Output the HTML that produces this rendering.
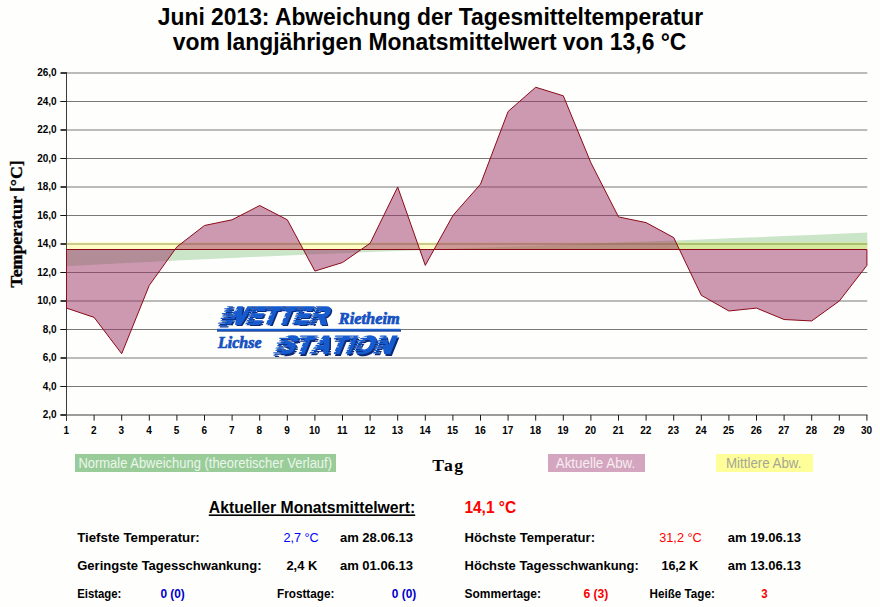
<!DOCTYPE html>
<html><head><meta charset="utf-8"><title>Juni 2013</title>
<style>
html,body{margin:0;padding:0;background:#fefefc;}
body{width:880px;height:607px;overflow:hidden;font-family:"Liberation Sans",sans-serif;}
svg{display:block;}
text{font-family:"Liberation Sans",sans-serif;}
.se{font-family:"Liberation Serif",serif;}
</style></head><body>
<svg width="880" height="607" viewBox="0 0 880 607">
<rect x="0" y="0" width="880" height="607" fill="#fefefc"/>
<g font-weight="bold" font-size="24.2" fill="#000">
<text x="157.8" y="24.8" textLength="545.4" lengthAdjust="spacingAndGlyphs">Juni 2013: Abweichung der Tagesmitteltemperatur</text>
<text x="172.8" y="50.4" textLength="513.6" lengthAdjust="spacingAndGlyphs">vom langjährigen Monatsmittelwert von 13,6 °C</text>
</g>
<g stroke="#000" stroke-width="0.53" fill="none">
<line x1="66.5" y1="386.50" x2="867.3" y2="386.50"/>
<line x1="66.5" y1="358.00" x2="867.3" y2="358.00"/>
<line x1="66.5" y1="329.50" x2="867.3" y2="329.50"/>
<line x1="66.5" y1="301.00" x2="867.3" y2="301.00"/>
<line x1="66.5" y1="272.50" x2="867.3" y2="272.50"/>
<line x1="66.5" y1="244.00" x2="867.3" y2="244.00"/>
<line x1="66.5" y1="215.50" x2="867.3" y2="215.50"/>
<line x1="66.5" y1="187.00" x2="867.3" y2="187.00"/>
<line x1="66.5" y1="158.50" x2="867.3" y2="158.50"/>
<line x1="66.5" y1="130.00" x2="867.3" y2="130.00"/>
<line x1="66.5" y1="101.50" x2="867.3" y2="101.50"/>
<line x1="66.5" y1="73.00" x2="867.3" y2="73.00"/>
</g>
<g fill="#262626">
<rect x="66" y="72" width="1" height="349" fill="#3a3a3a"/>
<rect x="60.5" y="414" width="807" height="2" fill="#9c9c9c"/>
<rect x="60.5" y="414" width="6.5" height="2" fill="#3a3a3a"/>
<rect x="60.3" y="386.0" width="6.2" height="1" fill="#111"/>
<rect x="60.5" y="357.0" width="6" height="2" fill="#3c3c3c"/>
<rect x="60.3" y="329.0" width="6.2" height="1" fill="#111"/>
<rect x="60.5" y="300.0" width="6" height="2" fill="#3c3c3c"/>
<rect x="60.3" y="272.0" width="6.2" height="1" fill="#111"/>
<rect x="60.5" y="243.0" width="6" height="2" fill="#3c3c3c"/>
<rect x="60.3" y="215.0" width="6.2" height="1" fill="#111"/>
<rect x="60.5" y="186.0" width="6" height="2" fill="#3c3c3c"/>
<rect x="60.3" y="158.0" width="6.2" height="1" fill="#111"/>
<rect x="60.5" y="129.0" width="6" height="2" fill="#3c3c3c"/>
<rect x="60.3" y="101.0" width="6.2" height="1" fill="#111"/>
<rect x="60.5" y="72.0" width="6" height="2" fill="#3c3c3c"/>
</g>
<g stroke="#1a1a1a" stroke-width="1" fill="none">
<line x1="94.10" y1="415" x2="94.10" y2="420.6"/>
<line x1="121.70" y1="415" x2="121.70" y2="420.6"/>
<line x1="149.30" y1="415" x2="149.30" y2="420.6"/>
<line x1="176.90" y1="415" x2="176.90" y2="420.6"/>
<line x1="204.50" y1="415" x2="204.50" y2="420.6"/>
<line x1="232.10" y1="415" x2="232.10" y2="420.6"/>
<line x1="259.70" y1="415" x2="259.70" y2="420.6"/>
<line x1="287.30" y1="415" x2="287.30" y2="420.6"/>
<line x1="314.90" y1="415" x2="314.90" y2="420.6"/>
<line x1="342.50" y1="415" x2="342.50" y2="420.6"/>
<line x1="370.10" y1="415" x2="370.10" y2="420.6"/>
<line x1="397.70" y1="415" x2="397.70" y2="420.6"/>
<line x1="425.30" y1="415" x2="425.30" y2="420.6"/>
<line x1="452.90" y1="415" x2="452.90" y2="420.6"/>
<line x1="480.50" y1="415" x2="480.50" y2="420.6"/>
<line x1="508.10" y1="415" x2="508.10" y2="420.6"/>
<line x1="535.70" y1="415" x2="535.70" y2="420.6"/>
<line x1="563.30" y1="415" x2="563.30" y2="420.6"/>
<line x1="590.90" y1="415" x2="590.90" y2="420.6"/>
<line x1="618.50" y1="415" x2="618.50" y2="420.6"/>
<line x1="646.10" y1="415" x2="646.10" y2="420.6"/>
<line x1="673.70" y1="415" x2="673.70" y2="420.6"/>
<line x1="701.30" y1="415" x2="701.30" y2="420.6"/>
<line x1="728.90" y1="415" x2="728.90" y2="420.6"/>
<line x1="756.50" y1="415" x2="756.50" y2="420.6"/>
<line x1="784.10" y1="415" x2="784.10" y2="420.6"/>
<line x1="811.70" y1="415" x2="811.70" y2="420.6"/>
<line x1="839.30" y1="415" x2="839.30" y2="420.6"/>
<line x1="866.90" y1="415" x2="866.90" y2="420.6"/>
</g>
<polygon points="66.50,249.50 66.50,266.30 94.10,264.77 121.70,263.30 149.30,261.88 176.90,260.52 204.50,259.19 232.10,257.92 259.70,256.68 287.30,255.48 314.90,254.31 342.50,253.17 370.10,252.05 397.70,250.96 425.30,249.89 452.90,248.83 480.50,247.78 508.10,246.74 535.70,245.71 563.30,244.68 590.90,243.65 618.50,242.61 646.10,241.57 673.70,240.51 701.30,239.44 728.90,238.35 756.50,237.23 784.10,236.09 811.70,234.92 839.30,233.72 866.90,232.48 867.30,232.48 867.30,249.50" fill="rgb(0,128,0)" fill-opacity="0.2"/>
<rect x="66.50" y="242.10" width="800.80" height="7.40" fill="rgb(255,255,0)" fill-opacity="0.22"/>
<polygon points="66.50,249.50 66.50,308.12 94.10,317.39 121.70,353.72 149.30,285.33 176.90,246.85 204.50,225.47 232.10,219.78 259.70,205.53 287.30,219.78 314.90,271.08 342.50,262.52 370.10,243.29 397.70,187.00 425.30,265.38 452.90,215.50 480.50,184.15 508.10,111.47 535.70,87.25 563.30,95.80 590.90,162.78 618.50,216.92 646.10,222.62 673.70,237.59 701.30,295.30 728.90,310.98 756.50,308.12 784.10,319.52 811.70,320.95 839.30,301.00 866.90,265.38 866.90,249.50" fill="rgb(153,51,102)" fill-opacity="0.5" stroke="#8c0a18" stroke-width="1.0" stroke-linejoin="round"/>
<g font-weight="bold" font-size="10" fill="#000" text-anchor="end">
<text x="56.6" y="418.4">2,0</text>
<text x="56.6" y="389.9">4,0</text>
<text x="56.6" y="361.4">6,0</text>
<text x="56.6" y="332.9">8,0</text>
<text x="56.6" y="304.4">10,0</text>
<text x="56.6" y="275.9">12,0</text>
<text x="56.6" y="247.4">14,0</text>
<text x="56.6" y="218.9">16,0</text>
<text x="56.6" y="190.4">18,0</text>
<text x="56.6" y="161.9">20,0</text>
<text x="56.6" y="133.4">22,0</text>
<text x="56.6" y="104.9">24,0</text>
<text x="56.6" y="76.4">26,0</text>
</g>
<g font-weight="bold" font-size="10" fill="#000" text-anchor="middle">
<text x="66.2" y="433.8">1</text>
<text x="93.8" y="433.8">2</text>
<text x="121.4" y="433.8">3</text>
<text x="149.0" y="433.8">4</text>
<text x="176.6" y="433.8">5</text>
<text x="204.2" y="433.8">6</text>
<text x="231.8" y="433.8">7</text>
<text x="259.4" y="433.8">8</text>
<text x="287.0" y="433.8">9</text>
<text x="314.6" y="433.8">10</text>
<text x="342.2" y="433.8">11</text>
<text x="369.8" y="433.8">12</text>
<text x="397.4" y="433.8">13</text>
<text x="425.0" y="433.8">14</text>
<text x="452.6" y="433.8">15</text>
<text x="480.2" y="433.8">16</text>
<text x="507.8" y="433.8">17</text>
<text x="535.4" y="433.8">18</text>
<text x="563.0" y="433.8">19</text>
<text x="590.6" y="433.8">20</text>
<text x="618.2" y="433.8">21</text>
<text x="645.8" y="433.8">22</text>
<text x="673.4" y="433.8">23</text>
<text x="701.0" y="433.8">24</text>
<text x="728.6" y="433.8">25</text>
<text x="756.2" y="433.8">26</text>
<text x="783.8" y="433.8">27</text>
<text x="811.4" y="433.8">28</text>
<text x="839.0" y="433.8">29</text>
<text x="866.6" y="433.8">30</text>
</g>
<text class="se" font-weight="bold" font-size="17.5" textLength="127.4" lengthAdjust="spacingAndGlyphs" stroke="#000" stroke-width="0.35" transform="translate(22.4,287.6) rotate(-90)">Temperatur [°C]</text>
<text class="se" font-weight="bold" font-size="17.7" letter-spacing="1.5" x="432.3" y="470.8">Tag</text>
<rect x="75" y="454" width="261" height="18" fill="#99cc99"/>
<text x="78.4" y="468.0" font-size="13.8" textLength="253.6" lengthAdjust="spacingAndGlyphs" fill="#ebf6eb">Normale Abweichung (theoretischer Verlauf)</text>
<rect x="548" y="454" width="97" height="18" fill="#d4a5be"/>
<text x="555.8" y="468.0" font-size="13.8" textLength="79.4" lengthAdjust="spacingAndGlyphs" fill="#f6ecf2">Aktuelle Abw.</text>
<rect x="716" y="454" width="97" height="18" fill="#ffff99"/>
<text x="726.0" y="468.0" font-size="13.8" textLength="75.4" lengthAdjust="spacingAndGlyphs" fill="#a6a696">Mittlere Abw.</text>
<g id="logo">
<mask id="ma" maskUnits="userSpaceOnUse" x="-10" y="-24" width="134" height="30"><rect x="-10" y="-24" width="134" height="30" fill="#fff"/><rect x="-1.8" y="-16.4" width="8.8" height="0.85" fill="#000"/><rect x="-1.8" y="-14.0" width="12.5" height="0.85" fill="#000"/><rect x="-1.8" y="-11.6" width="7.4" height="0.85" fill="#000"/><rect x="-1.8" y="-9.2" width="11.6" height="0.85" fill="#000"/><rect x="-1.8" y="-6.8" width="9.3" height="0.85" fill="#000"/><rect x="-1.8" y="-4.4" width="13.5" height="0.85" fill="#000"/><rect x="-1.8" y="-2.0" width="7.9" height="0.85" fill="#000"/><rect x="-1.8" y="0.4" width="11.1" height="0.85" fill="#000"/><rect x="21.6" y="-16.4" width="8.7" height="0.85" fill="#000"/><rect x="21.6" y="-14.0" width="7.1" height="0.85" fill="#000"/><rect x="21.6" y="-11.6" width="10.1" height="0.85" fill="#000"/><rect x="21.6" y="-9.2" width="6.1" height="0.85" fill="#000"/><rect x="21.6" y="-6.8" width="8.4" height="0.85" fill="#000"/><rect x="21.6" y="-4.4" width="6.8" height="0.85" fill="#000"/><rect x="21.6" y="-2.0" width="9.4" height="0.85" fill="#000"/><rect x="21.6" y="0.4" width="5.8" height="0.85" fill="#000"/><rect x="38.1" y="-16.4" width="5.7" height="0.85" fill="#000"/><rect x="38.1" y="-14.0" width="7.8" height="0.85" fill="#000"/><rect x="38.1" y="-11.6" width="6.3" height="0.85" fill="#000"/><rect x="38.1" y="-9.2" width="8.8" height="0.85" fill="#000"/><rect x="38.1" y="-6.8" width="5.4" height="0.85" fill="#000"/><rect x="38.1" y="-4.4" width="8.2" height="0.85" fill="#000"/><rect x="38.1" y="-2.0" width="6.6" height="0.85" fill="#000"/><rect x="38.1" y="0.4" width="9.4" height="0.85" fill="#000"/><rect x="53.2" y="-16.4" width="8.8" height="0.85" fill="#000"/><rect x="53.2" y="-14.0" width="5.4" height="0.85" fill="#000"/><rect x="53.2" y="-11.6" width="8.2" height="0.85" fill="#000"/><rect x="53.2" y="-9.2" width="6.6" height="0.85" fill="#000"/><rect x="53.2" y="-6.8" width="9.4" height="0.85" fill="#000"/><rect x="53.2" y="-4.4" width="5.7" height="0.85" fill="#000"/><rect x="53.2" y="-2.0" width="7.8" height="0.85" fill="#000"/><rect x="53.2" y="0.4" width="6.3" height="0.85" fill="#000"/><rect x="68.3" y="-16.4" width="7.1" height="0.85" fill="#000"/><rect x="68.3" y="-14.0" width="10.1" height="0.85" fill="#000"/><rect x="68.3" y="-11.6" width="6.1" height="0.85" fill="#000"/><rect x="68.3" y="-9.2" width="8.4" height="0.85" fill="#000"/><rect x="68.3" y="-6.8" width="6.8" height="0.85" fill="#000"/><rect x="68.3" y="-4.4" width="9.4" height="0.85" fill="#000"/><rect x="68.3" y="-2.0" width="5.8" height="0.85" fill="#000"/><rect x="68.3" y="0.4" width="8.7" height="0.85" fill="#000"/><rect x="84.8" y="-16.4" width="8.9" height="0.85" fill="#000"/><rect x="84.8" y="-14.0" width="7.2" height="0.85" fill="#000"/><rect x="84.8" y="-11.6" width="10.0" height="0.85" fill="#000"/><rect x="84.8" y="-9.2" width="6.1" height="0.85" fill="#000"/><rect x="84.8" y="-6.8" width="9.3" height="0.85" fill="#000"/><rect x="84.8" y="-4.4" width="7.5" height="0.85" fill="#000"/><rect x="84.8" y="-2.0" width="10.7" height="0.85" fill="#000"/><rect x="84.8" y="0.4" width="6.4" height="0.85" fill="#000"/></mask>
<g transform="translate(222.9,324.9) skewX(-22)"><g mask="url(#ma)"><text x="0.00" y="0" font-weight="bold" font-size="24.2" fill="#0c2a78" stroke="#0c2a78" stroke-width="2.0" stroke-linejoin="miter" transform="translate(0.00,0) scale(1.023,1) translate(0.00,0)">W</text><text x="0.00" y="0" font-weight="bold" font-size="24.2" fill="#0c2a78" stroke="#0c2a78" stroke-width="2.0" stroke-linejoin="miter" transform="translate(23.37,0) scale(1.023,1) translate(0.00,0)">E</text><text x="0.00" y="0" font-weight="bold" font-size="24.2" fill="#0c2a78" stroke="#0c2a78" stroke-width="2.0" stroke-linejoin="miter" transform="translate(39.87,0) scale(1.023,1) translate(0.00,0)">T</text><text x="0.00" y="0" font-weight="bold" font-size="24.2" fill="#0c2a78" stroke="#0c2a78" stroke-width="2.0" stroke-linejoin="miter" transform="translate(55.00,0) scale(1.023,1) translate(0.00,0)">T</text><text x="0.00" y="0" font-weight="bold" font-size="24.2" fill="#0c2a78" stroke="#0c2a78" stroke-width="2.0" stroke-linejoin="miter" transform="translate(70.12,0) scale(1.023,1) translate(0.00,0)">E</text><text x="0.00" y="0" font-weight="bold" font-size="24.2" fill="#0c2a78" stroke="#0c2a78" stroke-width="2.0" stroke-linejoin="miter" transform="translate(86.63,0) scale(1.023,1) translate(0.00,0)">R</text></g><rect x="-3.2" y="-15.4" width="4.6" height="1.15" fill="#0c2a78"/><rect x="-2.2" y="-13.0" width="4.3" height="1.15" fill="#0c2a78"/><rect x="-3.6" y="-10.6" width="6.4" height="1.15" fill="#0c2a78"/><rect x="-2.4" y="-8.2" width="5.9" height="1.15" fill="#0c2a78"/><rect x="-3.0" y="-5.8" width="7.3" height="1.15" fill="#0c2a78"/><rect x="-2.0" y="-3.4" width="7.0" height="1.15" fill="#0c2a78"/><rect x="-3.4" y="-1.0" width="9.1" height="1.15" fill="#0c2a78"/><rect x="-2.2" y="1.4" width="8.6" height="1.15" fill="#0c2a78"/></g>
<g transform="translate(221.5,323.6) skewX(-22)"><g mask="url(#ma)"><text x="0.00" y="0" font-weight="bold" font-size="24.2" fill="#175cce" stroke="#175cce" stroke-width="2.0" stroke-linejoin="miter" transform="translate(0.00,0) scale(1.023,1) translate(0.00,0)">W</text><text x="0.00" y="0" font-weight="bold" font-size="24.2" fill="#175cce" stroke="#175cce" stroke-width="2.0" stroke-linejoin="miter" transform="translate(23.37,0) scale(1.023,1) translate(0.00,0)">E</text><text x="0.00" y="0" font-weight="bold" font-size="24.2" fill="#175cce" stroke="#175cce" stroke-width="2.0" stroke-linejoin="miter" transform="translate(39.87,0) scale(1.023,1) translate(0.00,0)">T</text><text x="0.00" y="0" font-weight="bold" font-size="24.2" fill="#175cce" stroke="#175cce" stroke-width="2.0" stroke-linejoin="miter" transform="translate(55.00,0) scale(1.023,1) translate(0.00,0)">T</text><text x="0.00" y="0" font-weight="bold" font-size="24.2" fill="#175cce" stroke="#175cce" stroke-width="2.0" stroke-linejoin="miter" transform="translate(70.12,0) scale(1.023,1) translate(0.00,0)">E</text><text x="0.00" y="0" font-weight="bold" font-size="24.2" fill="#175cce" stroke="#175cce" stroke-width="2.0" stroke-linejoin="miter" transform="translate(86.63,0) scale(1.023,1) translate(0.00,0)">R</text></g><rect x="-3.2" y="-15.4" width="4.6" height="1.15" fill="#175cce"/><rect x="-2.2" y="-13.0" width="4.3" height="1.15" fill="#175cce"/><rect x="-3.6" y="-10.6" width="6.4" height="1.15" fill="#175cce"/><rect x="-2.4" y="-8.2" width="5.9" height="1.15" fill="#175cce"/><rect x="-3.0" y="-5.8" width="7.3" height="1.15" fill="#175cce"/><rect x="-2.0" y="-3.4" width="7.0" height="1.15" fill="#175cce"/><rect x="-3.4" y="-1.0" width="9.1" height="1.15" fill="#175cce"/><rect x="-2.2" y="1.4" width="8.6" height="1.15" fill="#175cce"/></g>
<mask id="mb" maskUnits="userSpaceOnUse" x="-10" y="-24" width="145" height="30"><rect x="-10" y="-24" width="145" height="30" fill="#fff"/><rect x="-1.8" y="-16.4" width="7.0" height="0.85" fill="#000"/><rect x="-1.8" y="-14.0" width="9.8" height="0.85" fill="#000"/><rect x="-1.8" y="-11.6" width="6.0" height="0.85" fill="#000"/><rect x="-1.8" y="-9.2" width="9.1" height="0.85" fill="#000"/><rect x="-1.8" y="-6.8" width="7.4" height="0.85" fill="#000"/><rect x="-1.8" y="-4.4" width="10.5" height="0.85" fill="#000"/><rect x="-1.8" y="-2.0" width="6.3" height="0.85" fill="#000"/><rect x="-1.8" y="0.4" width="8.8" height="0.85" fill="#000"/><rect x="15.7" y="-16.4" width="8.5" height="0.85" fill="#000"/><rect x="15.7" y="-14.0" width="6.9" height="0.85" fill="#000"/><rect x="15.7" y="-11.6" width="9.8" height="0.85" fill="#000"/><rect x="15.7" y="-9.2" width="6.0" height="0.85" fill="#000"/><rect x="15.7" y="-6.8" width="8.2" height="0.85" fill="#000"/><rect x="15.7" y="-4.4" width="6.6" height="0.85" fill="#000"/><rect x="15.7" y="-2.0" width="9.2" height="0.85" fill="#000"/><rect x="15.7" y="0.4" width="5.6" height="0.85" fill="#000"/><rect x="31.7" y="-16.4" width="6.7" height="0.85" fill="#000"/><rect x="31.7" y="-14.0" width="9.4" height="0.85" fill="#000"/><rect x="31.7" y="-11.6" width="7.5" height="0.85" fill="#000"/><rect x="31.7" y="-9.2" width="10.5" height="0.85" fill="#000"/><rect x="31.7" y="-6.8" width="6.3" height="0.85" fill="#000"/><rect x="31.7" y="-4.4" width="9.7" height="0.85" fill="#000"/><rect x="31.7" y="-2.0" width="7.9" height="0.85" fill="#000"/><rect x="31.7" y="0.4" width="11.3" height="0.85" fill="#000"/><rect x="50.6" y="-16.4" width="9.2" height="0.85" fill="#000"/><rect x="50.6" y="-14.0" width="5.6" height="0.85" fill="#000"/><rect x="50.6" y="-11.6" width="8.5" height="0.85" fill="#000"/><rect x="50.6" y="-9.2" width="6.9" height="0.85" fill="#000"/><rect x="50.6" y="-6.8" width="9.8" height="0.85" fill="#000"/><rect x="50.6" y="-4.4" width="6.0" height="0.85" fill="#000"/><rect x="50.6" y="-2.0" width="8.2" height="0.85" fill="#000"/><rect x="50.6" y="0.4" width="6.6" height="0.85" fill="#000"/><rect x="66.6" y="-16.4" width="4.1" height="0.85" fill="#000"/><rect x="66.6" y="-14.0" width="5.4" height="0.85" fill="#000"/><rect x="66.6" y="-11.6" width="3.7" height="0.85" fill="#000"/><rect x="66.6" y="-9.2" width="4.7" height="0.85" fill="#000"/><rect x="66.6" y="-6.8" width="4.0" height="0.85" fill="#000"/><rect x="66.6" y="-4.4" width="5.2" height="0.85" fill="#000"/><rect x="66.6" y="-2.0" width="3.5" height="0.85" fill="#000"/><rect x="66.6" y="0.4" width="4.9" height="0.85" fill="#000"/><rect x="73.9" y="-16.4" width="10.0" height="0.85" fill="#000"/><rect x="73.9" y="-14.0" width="7.9" height="0.85" fill="#000"/><rect x="73.9" y="-11.6" width="11.2" height="0.85" fill="#000"/><rect x="73.9" y="-9.2" width="6.7" height="0.85" fill="#000"/><rect x="73.9" y="-6.8" width="10.4" height="0.85" fill="#000"/><rect x="73.9" y="-4.4" width="8.3" height="0.85" fill="#000"/><rect x="73.9" y="-2.0" width="12.0" height="0.85" fill="#000"/><rect x="73.9" y="0.4" width="7.1" height="0.85" fill="#000"/><rect x="94.3" y="-16.4" width="6.3" height="0.85" fill="#000"/><rect x="94.3" y="-14.0" width="9.7" height="0.85" fill="#000"/><rect x="94.3" y="-11.6" width="7.9" height="0.85" fill="#000"/><rect x="94.3" y="-9.2" width="11.3" height="0.85" fill="#000"/><rect x="94.3" y="-6.8" width="6.7" height="0.85" fill="#000"/><rect x="94.3" y="-4.4" width="9.4" height="0.85" fill="#000"/><rect x="94.3" y="-2.0" width="7.5" height="0.85" fill="#000"/><rect x="94.3" y="0.4" width="10.5" height="0.85" fill="#000"/></mask>
<g transform="translate(277.9,354.5) skewX(-22)"><g mask="url(#mb)"><text x="0.00" y="0" font-weight="bold" font-size="24.2" fill="#0c2a78" stroke="#0c2a78" stroke-width="2.0" stroke-linejoin="miter" transform="translate(0.00,0) scale(1.083,1) translate(0.00,0)">S</text><text x="0.00" y="0" font-weight="bold" font-size="24.2" fill="#0c2a78" stroke="#0c2a78" stroke-width="2.0" stroke-linejoin="miter" transform="translate(17.48,0) scale(1.083,1) translate(0.00,0)">T</text><text x="0.00" y="0" font-weight="bold" font-size="24.2" fill="#0c2a78" stroke="#0c2a78" stroke-width="2.0" stroke-linejoin="miter" transform="translate(33.49,0) scale(1.083,1) translate(0.00,0)">A</text><text x="0.00" y="0" font-weight="bold" font-size="24.2" fill="#0c2a78" stroke="#0c2a78" stroke-width="2.0" stroke-linejoin="miter" transform="translate(52.40,0) scale(1.083,1) translate(0.00,0)">T</text><text x="0.00" y="0" font-weight="bold" font-size="24.2" fill="#0c2a78" stroke="#0c2a78" stroke-width="2.0" stroke-linejoin="miter" transform="translate(68.41,0) scale(1.083,1) translate(0.00,0)">I</text><text x="0.00" y="0" font-weight="bold" font-size="24.2" fill="#0c2a78" stroke="#0c2a78" stroke-width="2.0" stroke-linejoin="miter" transform="translate(75.70,0) scale(1.083,1) translate(0.00,0)">O</text><text x="0.00" y="0" font-weight="bold" font-size="24.2" fill="#0c2a78" stroke="#0c2a78" stroke-width="2.0" stroke-linejoin="miter" transform="translate(96.08,0) scale(1.083,1) translate(0.00,0)">N</text></g><rect x="-3.2" y="-15.4" width="5.2" height="1.15" fill="#0c2a78"/><rect x="-2.2" y="-13.0" width="4.2" height="1.15" fill="#0c2a78"/><rect x="-3.6" y="-10.6" width="5.6" height="1.15" fill="#0c2a78"/><rect x="-2.4" y="-8.2" width="4.4" height="1.15" fill="#0c2a78"/><rect x="-3.0" y="-5.8" width="5.0" height="1.15" fill="#0c2a78"/><rect x="-2.0" y="-3.4" width="4.0" height="1.15" fill="#0c2a78"/><rect x="-3.4" y="-1.0" width="5.4" height="1.15" fill="#0c2a78"/><rect x="-2.2" y="1.4" width="4.2" height="1.15" fill="#0c2a78"/></g>
<g transform="translate(276.5,353.2) skewX(-22)"><g mask="url(#mb)"><text x="0.00" y="0" font-weight="bold" font-size="24.2" fill="#175cce" stroke="#175cce" stroke-width="2.0" stroke-linejoin="miter" transform="translate(0.00,0) scale(1.083,1) translate(0.00,0)">S</text><text x="0.00" y="0" font-weight="bold" font-size="24.2" fill="#175cce" stroke="#175cce" stroke-width="2.0" stroke-linejoin="miter" transform="translate(17.48,0) scale(1.083,1) translate(0.00,0)">T</text><text x="0.00" y="0" font-weight="bold" font-size="24.2" fill="#175cce" stroke="#175cce" stroke-width="2.0" stroke-linejoin="miter" transform="translate(33.49,0) scale(1.083,1) translate(0.00,0)">A</text><text x="0.00" y="0" font-weight="bold" font-size="24.2" fill="#175cce" stroke="#175cce" stroke-width="2.0" stroke-linejoin="miter" transform="translate(52.40,0) scale(1.083,1) translate(0.00,0)">T</text><text x="0.00" y="0" font-weight="bold" font-size="24.2" fill="#175cce" stroke="#175cce" stroke-width="2.0" stroke-linejoin="miter" transform="translate(68.41,0) scale(1.083,1) translate(0.00,0)">I</text><text x="0.00" y="0" font-weight="bold" font-size="24.2" fill="#175cce" stroke="#175cce" stroke-width="2.0" stroke-linejoin="miter" transform="translate(75.70,0) scale(1.083,1) translate(0.00,0)">O</text><text x="0.00" y="0" font-weight="bold" font-size="24.2" fill="#175cce" stroke="#175cce" stroke-width="2.0" stroke-linejoin="miter" transform="translate(96.08,0) scale(1.083,1) translate(0.00,0)">N</text></g><rect x="-3.2" y="-15.4" width="5.2" height="1.15" fill="#175cce"/><rect x="-2.2" y="-13.0" width="4.2" height="1.15" fill="#175cce"/><rect x="-3.6" y="-10.6" width="5.6" height="1.15" fill="#175cce"/><rect x="-2.4" y="-8.2" width="4.4" height="1.15" fill="#175cce"/><rect x="-3.0" y="-5.8" width="5.0" height="1.15" fill="#175cce"/><rect x="-2.0" y="-3.4" width="4.0" height="1.15" fill="#175cce"/><rect x="-3.4" y="-1.0" width="5.4" height="1.15" fill="#175cce"/><rect x="-2.2" y="1.4" width="4.2" height="1.15" fill="#175cce"/></g>
<rect x="217" y="330" width="184" height="1.6" fill="#0c2a78"/>
<rect x="217" y="328.8" width="183.5" height="2" fill="#175cce"/>
<g class="se" font-style="italic" font-weight="bold" font-size="16" fill="#1450c2" stroke="#1450c2" stroke-width="0.7">
<text class="se" x="338.8" y="323.8" textLength="61" lengthAdjust="spacingAndGlyphs">Rietheim</text>
<text class="se" x="218" y="347.7">Lichse</text>
</g>
</g>
<g font-weight="bold" fill="#000">
<text x="208.8" y="513.4" font-size="16.2" textLength="206.4" lengthAdjust="spacingAndGlyphs" text-decoration="underline">Aktueller Monatsmittelwert:</text>
<text x="464.4" y="513.4" font-size="16.2" textLength="51.8" lengthAdjust="spacingAndGlyphs" fill="#ff0000">14,1 °C</text>
<g font-size="13.7">
<text x="77.2" y="541.9" textLength="122.6" lengthAdjust="spacingAndGlyphs">Tiefste Temperatur:</text>
<text x="283.4" y="541.9" textLength="35.4" lengthAdjust="spacingAndGlyphs" font-weight="normal" fill="#0000ff">2,7 °C</text>
<text x="339.9" y="541.9" textLength="73.2" lengthAdjust="spacingAndGlyphs">am 28.06.13</text>
<text x="464.6" y="541.9" textLength="130.4" lengthAdjust="spacingAndGlyphs">Höchste Temperatur:</text>
<text x="659.2" y="541.9" textLength="42.6" lengthAdjust="spacingAndGlyphs" font-weight="normal" fill="#ff0000">31,2 °C</text>
<text x="727.7" y="541.9" textLength="73.2" lengthAdjust="spacingAndGlyphs">am 19.06.13</text>
<text x="77.2" y="569.9" textLength="184.4" lengthAdjust="spacingAndGlyphs">Geringste Tagesschwankung:</text>
<text x="286.4" y="569.9" textLength="30.8" lengthAdjust="spacingAndGlyphs">2,4 K</text>
<text x="339.9" y="569.9" textLength="73.2" lengthAdjust="spacingAndGlyphs">am 01.06.13</text>
<text x="464.6" y="569.9" textLength="174.2" lengthAdjust="spacingAndGlyphs">Höchste Tagesschwankung:</text>
<text x="661.4" y="569.9" textLength="37.0" lengthAdjust="spacingAndGlyphs">16,2 K</text>
<text x="727.7" y="569.9" textLength="73.2" lengthAdjust="spacingAndGlyphs">am 13.06.13</text>
</g>
<g font-size="12.4">
<text x="77.2" y="597.8" textLength="44.2" lengthAdjust="spacingAndGlyphs">Eistage:</text>
<text x="160.4" y="597.8" textLength="24.4" lengthAdjust="spacingAndGlyphs" fill="#0000cc">0 (0)</text>
<text x="277.0" y="597.8" textLength="57.4" lengthAdjust="spacingAndGlyphs">Frosttage:</text>
<text x="391.8" y="597.8" textLength="24.4" lengthAdjust="spacingAndGlyphs" fill="#0000cc">0 (0)</text>
<text x="464.6" y="597.8" textLength="76.4" lengthAdjust="spacingAndGlyphs">Sommertage:</text>
<text x="583.4" y="597.8" textLength="25.0" lengthAdjust="spacingAndGlyphs" fill="#f80000">6 (3)</text>
<text x="649.6" y="597.8" textLength="65.2" lengthAdjust="spacingAndGlyphs">Heiße Tage:</text>
<text x="761.2" y="597.8" textLength="6.4" lengthAdjust="spacingAndGlyphs" fill="#f80000">3</text>
</g>
</g>
</svg>
</body></html>
